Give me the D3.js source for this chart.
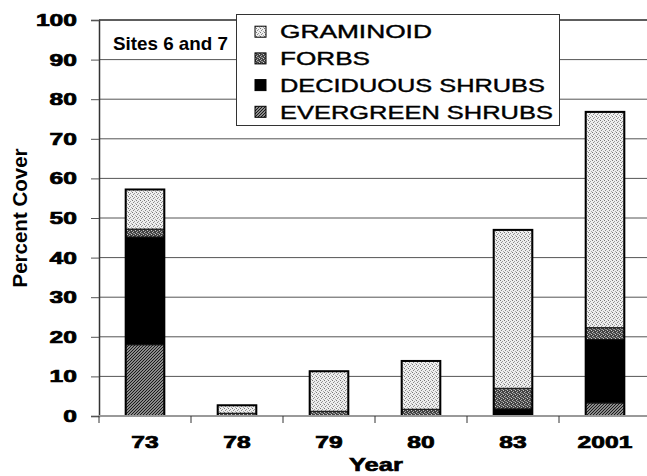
<!DOCTYPE html>
<html>
<head>
<meta charset="utf-8">
<script src="https://cdn.jsdelivr.net/npm/d3@7"></script>
<style>
  body { margin: 0; background: #fff; }
  svg { display: block; font-family: "Liberation Sans", Arial, sans-serif; }
</style>
</head>
<body>
<svg id="chart" width="647" height="476"></svg>
<script>
// data
const years = ['73', '78', '79', '80', '83', '2001'];
const evergreen = [18, 0, 0, 0, 0, 3.3];
const deciduous = [27.2, 0, 0, 0, 1.8, 16];
const forbs = [2, 0.7, 1.2, 1.7, 5.2, 3];
const graminoid = [10, 2.0, 10.1, 12.2, 40, 54.5];
const yTicks = [0, 10, 20, 30, 40, 50, 60, 70, 80, 90, 100];
const seriesNames = ['EVERGREEN SHRUBS', 'DECIDUOUS SHRUBS', 'FORBS', 'GRAMINOID'];
const legendOrder = ['GRAMINOID', 'FORBS', 'DECIDUOUS SHRUBS', 'EVERGREEN SHRUBS'];

const svg = d3.select('#chart');
const margin = { left: 99, top: 20 };
const plotW = 552, plotH = 396;

// the original lettering is wide, so stretch each label to its width
const digitW = 13.7;
const legendW = { 'GRAMINOID': 152, 'FORBS': 90, 'DECIDUOUS SHRUBS': 265, 'EVERGREEN SHRUBS': 273 };

// places a text at (x, baseline y) and scales it sideways to width w
// anchor: 0 = left, 0.5 = middle, 1 = right
function fitText(g, str, x, y, w, anchor, attrs) {
  const t = g.append('text').text(str);
  Object.entries(attrs).forEach(([k, v]) => t.attr(k, v));
  const natural = t.node().getComputedTextLength();
  const sx = w / natural;
  t.attr('transform', `translate(${x - anchor * w},${y}) scale(${sx},1)`);
  return t;
}

// fill patterns
const defs = svg.append('defs');
const gram = defs.append('pattern').attr('id', 'p-gram')
  .attr('width', 4).attr('height', 4).attr('patternUnits', 'userSpaceOnUse');
gram.append('rect').attr('width', 4).attr('height', 4).attr('fill', '#eee');
[[0, 0, '#777'], [2, 1, '#999'], [1, 2, '#888'], [3, 3, '#aaa']].forEach(p => {
  gram.append('rect').attr('x', p[0]).attr('y', p[1]).attr('width', 1).attr('height', 1).attr('fill', p[2]);
});

const forb = defs.append('pattern').attr('id', 'p-forb')
  .attr('width', 4).attr('height', 4).attr('patternUnits', 'userSpaceOnUse');
forb.append('rect').attr('width', 4).attr('height', 4).attr('fill', '#444');
[[0, 0, '#bbb'], [2, 1, '#999'], [1, 3, '#aaa'], [3, 2, '#ccc'], [1, 1, '#888']].forEach(p => {
  forb.append('rect').attr('x', p[0]).attr('y', p[1]).attr('width', 1).attr('height', 1).attr('fill', p[2]);
});

const ever = defs.append('pattern').attr('id', 'p-ever')
  .attr('width', 3).attr('height', 3).attr('patternUnits', 'userSpaceOnUse');
ever.append('rect').attr('width', 3).attr('height', 3).attr('fill', '#bbb');
ever.append('path').attr('d', 'M-1,1 l2,-2 M0,3 l3,-3 M2,4 l2,-2')
  .attr('stroke', '#111').attr('stroke-width', 1.1);

const fills = ['url(#p-ever)', '#000', 'url(#p-forb)', 'url(#p-gram)'];

const x = d3.scaleBand().domain(years)
  .range([margin.left, margin.left + plotW])
  .paddingInner(0.58).paddingOuter(0.29);
const y = d3.scaleLinear().domain([0, 100]).range([margin.top + plotH, margin.top]);

// gridlines
svg.append('g').selectAll('line').data(yTicks.filter(d => d > 0)).join('line')
  .attr('x1', margin.left).attr('x2', margin.left + plotW)
  .attr('y1', d => y(d)).attr('y2', d => y(d))
  .attr('stroke', '#555').attr('stroke-width', 1);

// y axis (ticks from d3, labels fitted by hand)
const yAxis = svg.append('g').attr('transform', `translate(${margin.left},0)`)
  .call(d3.axisLeft(y).tickValues(yTicks).tickSize(8).tickFormat(''));
yAxis.select('.domain').attr('stroke', '#333').attr('stroke-width', 1.5);
yAxis.selectAll('.tick line').attr('stroke', '#555');

const boldNum = { 'font-size': 16.5, 'font-weight': 'bold', 'stroke': '#000', 'stroke-width': 0.7 };
const yLabels = svg.append('g');
yTicks.forEach(v => {
  fitText(yLabels, String(v), 77, y(v) + 6, String(v).length * digitW, 1, boldNum);
});

// stacked data
const rows = years.map((yr, i) => ({
  year: yr,
  'EVERGREEN SHRUBS': evergreen[i],
  'DECIDUOUS SHRUBS': deciduous[i],
  'FORBS': forbs[i],
  'GRAMINOID': graminoid[i]
}));
const stacked = d3.stack().keys(seriesNames)(rows);

svg.append('g').selectAll('g').data(stacked).join('g')
  .attr('fill', (d, i) => fills[i])
  .selectAll('rect').data(d => d.filter(s => s[1] - s[0] > 0)).join('rect')
  .attr('x', d => x(d.data.year))
  .attr('width', x.bandwidth())
  .attr('y', d => y(d[1]))
  .attr('height', d => y(d[0]) - y(d[1]))
  .attr('stroke', '#111').attr('stroke-width', 1);

// outline around each whole bar
svg.append('g').selectAll('rect').data(rows).join('rect')
  .attr('x', d => x(d.year))
  .attr('width', x.bandwidth())
  .attr('y', d => y(d3.sum(seriesNames, k => d[k])))
  .attr('height', d => y(0) - y(d3.sum(seriesNames, k => d[k])))
  .attr('fill', 'none').attr('stroke', '#000').attr('stroke-width', 2);

// x axis line with category boundary ticks
const xAxisG = svg.append('g');
xAxisG.append('line')
  .attr('x1', margin.left).attr('x2', margin.left + plotW)
  .attr('y1', y(0)).attr('y2', y(0))
  .attr('stroke', '#999').attr('stroke-width', 2);
xAxisG.selectAll('.bt').data(years).join('line').attr('class', 'bt')
  .attr('x1', d => x(d) - x.step() * x.paddingInner() / 2)
  .attr('x2', d => x(d) - x.step() * x.paddingInner() / 2)
  .attr('y1', y(0)).attr('y2', y(0) + 7)
  .attr('stroke', '#333');
years.forEach(yr => {
  fitText(xAxisG, yr, x(yr) + x.bandwidth() / 2, 448, yr.length * digitW, 0.5, boldNum);
});

// top border of plot
svg.append('line')
  .attr('x1', margin.left).attr('x2', margin.left + plotW)
  .attr('y1', margin.top).attr('y2', margin.top)
  .attr('stroke', '#444').attr('stroke-width', 1.5);

// axis titles
fitText(svg, 'Year', 376, 471, 54, 0.5,
  { 'font-size': 18, 'font-weight': 'bold', 'stroke': '#000', 'stroke-width': 0.6 });
svg.append('text')
  .attr('transform', 'translate(27,218) rotate(-90)')
  .attr('text-anchor', 'middle')
  .attr('font-size', 20.5).attr('font-weight', 'bold')
  .text('Percent Cover');

// site note
fitText(svg, 'Sites 6 and 7', 113, 50, 115, 0, { 'font-size': 17.5, 'font-weight': 'bold' });

// legend
const legend = svg.append('g');
legend.append('rect')
  .attr('x', 236.5).attr('y', 14.5).attr('width', 323).attr('height', 111)
  .attr('fill', '#fff').attr('stroke', '#333').attr('stroke-width', 1);
legendOrder.forEach((name, i) => {
  const cy = 31.7 + i * 26.7;
  legend.append('rect')
    .attr('x', 255).attr('y', cy - 5.5).attr('width', 11).attr('height', 11)
    .attr('fill', fills[seriesNames.indexOf(name)])
    .attr('stroke', '#000').attr('stroke-width', 1);
  fitText(legend, name, 280, cy + 6.7, legendW[name], 0,
    { 'font-size': 18.6, 'stroke': '#000', 'stroke-width': 0.4 });
});
</script>
</body>
</html>
